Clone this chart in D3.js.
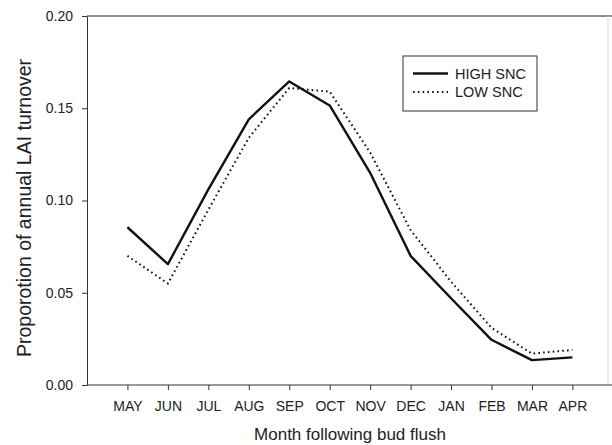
<!DOCTYPE html>
<html>
<head>
<meta charset="utf-8">
<script src="https://cdn.jsdelivr.net/npm/d3@7"></script>
<style>
  body { margin: 0; background: #fff; }
  text { font-family: "Liberation Sans", Arial, sans-serif; fill: #222; }
</style>
</head>
<body>
<svg id="chart"></svg>
<script>
// data
const months = ['MAY', 'JUN', 'JUL', 'AUG', 'SEP', 'OCT', 'NOV', 'DEC', 'JAN', 'FEB', 'MAR', 'APR'];
const highSNC = [0.0855, 0.0655, 0.106, 0.144, 0.1645, 0.1515, 0.115, 0.070, 0.047, 0.0245, 0.0135, 0.015];
const lowSNC = [0.070, 0.055, 0.095, 0.134, 0.161, 0.159, 0.126, 0.084, 0.056, 0.031, 0.017, 0.019];
const yTicks = [0.00, 0.05, 0.10, 0.15, 0.20];

const width = 612, height = 445;
const margin = {top: 16, right: 2, bottom: 60, left: 87};

const svg = d3.select('#chart')
    .attr('width', width)
    .attr('height', height);

const chart = svg.append('g')
    .attr('transform', `translate(${margin.left}, ${margin.top})`);

const innerW = width - margin.left - margin.right;
const innerH = height - margin.top - margin.bottom;

// months sit at positions 1..12, axis starts at 0
const xscale = d3.scaleLinear()
    .domain([0, 13])
    .range([0, 40.45 * 13]);

const yscale = d3.scaleLinear()
    .domain([0, 0.2])
    .range([innerH, 0]);

// frame
chart.append('line')
    .attr('x1', 0).attr('x2', innerW + 10)
    .attr('y1', 0).attr('y2', 0)
    .attr('stroke', '#222').attr('stroke-width', 1);
chart.append('line')
    .attr('x1', innerW - 2).attr('x2', innerW - 2)
    .attr('y1', 0).attr('y2', innerH)
    .attr('stroke', '#ddd').attr('stroke-width', 1);

const xaxis = d3.axisBottom(xscale)
    .tickValues(d3.range(1, 13))
    .tickFormat(d => months[d - 1])
    .tickSize(5)
    .tickPadding(11)
    .tickSizeOuter(0);

const yaxis = d3.axisLeft(yscale)
    .tickValues(yTicks)
    .tickFormat(d3.format('.2f'))
    .tickSize(5)
    .tickPadding(9)
    .tickSizeOuter(0);

const xg = chart.append('g')
    .attr('transform', `translate(0, ${innerH})`)
    .call(xaxis);
xg.select('.domain').attr('d', `M0,0H${innerW + 10}`);

const yg = chart.append('g').call(yaxis);

[xg, yg].forEach(g => {
    g.select('.domain').attr('stroke', '#333');
    g.selectAll('.tick line').attr('stroke', '#333');
    g.selectAll('.tick text')
        .attr('font-size', '14px')
        .attr('font-family', '"Liberation Sans", Arial, sans-serif')
        .attr('fill', '#333');
});

const line = d3.line()
    .x((d, i) => xscale(i + 1))
    .y(d => yscale(d));

chart.append('path')
    .datum(lowSNC)
    .attr('fill', 'none')
    .attr('stroke', '#111')
    .attr('stroke-width', 2)
    .attr('stroke-dasharray', '1.6,3.2')
    .attr('d', line);

chart.append('path')
    .datum(highSNC)
    .attr('fill', 'none')
    .attr('stroke', '#111')
    .attr('stroke-width', 2.4)
    .attr('stroke-linejoin', 'round')
    .attr('d', line);

// legend
const legend = svg.append('g');
legend.append('rect')
    .attr('x', 403).attr('y', 56)
    .attr('width', 134).attr('height', 55)
    .attr('fill', '#fff')
    .attr('stroke', '#333').attr('stroke-width', 1);

const legendItems = [
    {name: 'HIGH SNC', dash: null, w: 2.4},
    {name: 'LOW SNC', dash: '1.6,3.2', w: 2}
];
legendItems.forEach((it, i) => {
    const y = 73.5 + i * 18.5;
    legend.append('line')
        .attr('x1', 413).attr('x2', 448)
        .attr('y1', y).attr('y2', y)
        .attr('stroke', '#111')
        .attr('stroke-width', it.w)
        .attr('stroke-dasharray', it.dash);
    legend.append('text')
        .attr('x', 455).attr('y', y + 5)
        .attr('font-size', '14.5px')
        .text(it.name);
});

// axis titles
svg.append('text')
    .attr('x', 350).attr('y', 440)
    .attr('text-anchor', 'middle')
    .attr('font-size', '17px')
    .text('Month following bud flush');

svg.append('text')
    .attr('transform', 'translate(31, 208) rotate(-90)')
    .attr('text-anchor', 'middle')
    .attr('font-size', '19.5px')
    .text('Proporotion of annual LAI turnover');
</script>
</body>
</html>
